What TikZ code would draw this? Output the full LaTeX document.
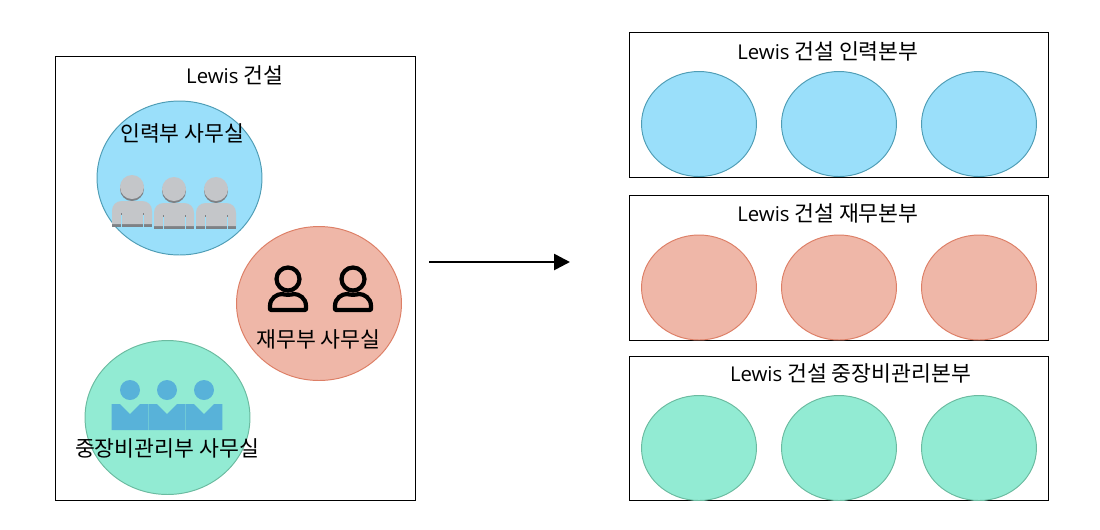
\documentclass[tikz,border=0pt]{standalone}
\usepackage{fontspec}
\setmainfont{Noto Sans CJK KR}
\newfontfamily\latinfont{Open Sans}
\usetikzlibrary{shapes.geometric}
\usetikzlibrary{arrows.meta}
\definecolor{bluefill}{HTML}{9ADFFA}
\definecolor{blueline}{HTML}{4F9DB5}
\definecolor{redfill}{HTML}{EFB7A8}
\definecolor{redline}{HTML}{DD7F66}
\definecolor{greenfill}{HTML}{92EBD3}
\definecolor{greenline}{HTML}{6BBBA0}
\definecolor{graybody}{HTML}{C4C6C9}
\definecolor{grayshade}{HTML}{7E8185}
\definecolor{steelblue}{HTML}{58B2D9}
\tikzset{
  box/.style={draw=black, line width=0.55pt, inner sep=0pt, outer sep=0pt},
  office/.style={ellipse, line width=0.55pt, inner sep=0pt, minimum width=3.3cm, minimum height=3.08cm},
  room/.style={ellipse, line width=0.55pt, inner sep=0pt, minimum width=2.3cm, minimum height=2.1cm},
  bluearea/.style={draw=blueline, fill=bluefill},
  redarea/.style={draw=redline, fill=redfill},
  greenarea/.style={draw=greenline, fill=greenfill},
  label/.style={font=\fontsize{12.3pt}{15pt}\selectfont, inner sep=0pt}
}
\newcommand{\lewis}{{\latinfont\fontsize{11.6pt}{15pt}\selectfont Lewis}}
% the icons take the centre of the head
\newcommand{\grayman}[2]{
  \begin{scope}[shift={(#1,#2)}]
    \fill[grayshade] (0,2) circle [radius=12];
    \fill[graybody] (0,0) circle [radius=12];
    \fill[grayshade] (-20,36) rectangle (20,40);
    \fill[graybody] (-20,37) -- (-20,24) .. controls (-20,18) and (-16,14) .. (-10,14) -- (10,14) .. controls (16,14) and (20,18) .. (20,24) -- (20,37) -- cycle;
    \draw[bluefill, line width=0.5pt] (-11,28) -- (-11,40);
    \draw[bluefill, line width=0.5pt] (11,28) -- (11,40);
    \draw[grayshade, line width=0.5pt] (-11,26) -- (-11,28);
    \draw[grayshade, line width=0.5pt] (11,26) -- (11,28);
  \end{scope}
}
\newcommand{\lineman}[2]{
  \begin{scope}[shift={(#1,#2)}, black, line width=2.4pt, line join=round]
    \draw (0,0) circle [radius=11.5];
    \draw (-18,30) -- (-18,27) .. controls (-18,19) and (-11,15) .. (-6,15) .. controls (-3,16) and (3,16) .. (6,15) .. controls (11,15) and (18,19) .. (18,27) -- (18,30) .. controls (18,31) and (17,31) .. (16,31) -- (-16,31) .. controls (-17,31) and (-18,31) .. (-18,30) -- cycle;
  \end{scope}
}
\newcommand{\blueman}[2]{
  \begin{scope}[shift={(#1,#2)}, steelblue]
    \fill (0,0) circle [radius=10];
    \fill (-18.3,14) -- (-10,14) -- (0,24) -- (10,14) -- (18.3,14) -- (18.3,40) -- (-18.3,40) -- cycle;
  \end{scope}
}

\begin{document}
\begin{tikzpicture}[x=0.02cm, y=-0.02cm]
  \useasboundingbox (0,0) rectangle (1100,529);
  % left side
  \node[box, minimum width=7.2cm, minimum height=8.88cm] (company) at (235.5,278.3) {};
  \node[office, bluearea] (hroffice) at (179.5,178) {};
  \node[office, redarea] (financeoffice) at (319,303.5) {};
  \node[office, greenarea] (machineoffice) at (167.5,417.5) {};
  \node[label] (companytitle) at (234.7,75) {\lewis{} 건설};
  \grayman{132}{187}
  \grayman{174}{189}
  \grayman{216}{189}
  \lineman{288}{279}
  \lineman{353}{279}
  \blueman{130}{390}
  \blueman{167}{390}
  \blueman{204}{390}
  \node[label] (hrtitle) at (182.3,133) {인력부 사무실};
  \node[label] (financetitle) at (318.3,339) {재무부 사무실};
  \node[label] (machinetitle) at (167,448) {중장비관리부 사무실};
  % arrow
  \coordinate (arrowstart) at (429,262);
  \coordinate (arrowend) at (570,262);
  \draw[-{Triangle[length=0.32cm, width=0.32cm]}, line width=1.5pt] (arrowstart) -- (arrowend);
  % right side
  \node[box, minimum width=8.38cm, minimum height=2.9cm] (hrdiv) at (839,104.7) {};
  \node[box, minimum width=8.38cm, minimum height=2.9cm] (financediv) at (839,267.7) {};
  \node[box, minimum width=8.38cm, minimum height=2.88cm] (machinediv) at (839,428.3) {};
  \node[label] (hrdivtitle) at (828,51) {\lewis{} 건설 인력본부};
  \node[label] (financedivtitle) at (828,213) {\lewis{} 건설 재무본부};
  \node[label] (machinedivtitle) at (850.5,373) {\lewis{} 건설 중장비관리본부};
  \foreach \i/\x in {1/699,2/839,3/979} {
    \node[room, bluearea] (hrroom\i) at (\x,124) {};
    \node[room, redarea] (financeroom\i) at (\x,287.5) {};
    \node[room, greenarea] (machineroom\i) at (\x,448) {};
  }
\end{tikzpicture}
\end{document}
